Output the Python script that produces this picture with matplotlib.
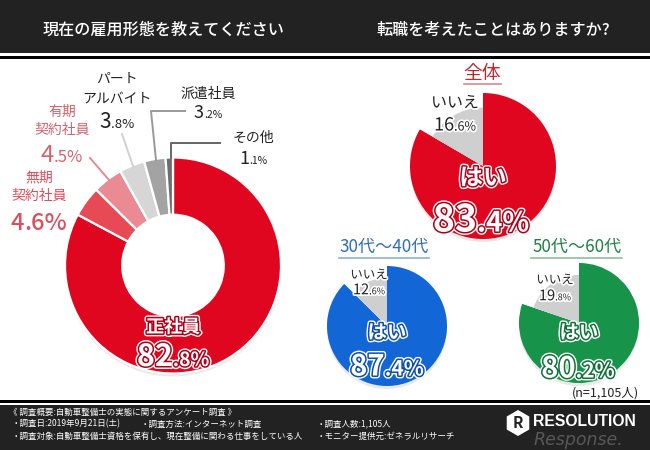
"""雇用形態と転職意向の円グラフ"""
import matplotlib
matplotlib.use("Agg")
import matplotlib.pyplot as plt
import matplotlib.patheffects as pe
from matplotlib.patches import Circle, Rectangle, RegularPolygon

plt.rcParams["font.family"] = ["Noto Sans CJK JP", "DejaVu Sans"]

W, H = 650, 450

# データ
emp_labels = ["正社員", "無期契約社員", "有期契約社員", "パートアルバイト", "派遣社員", "その他"]
emp_values = [82.8, 4.6, 4.5, 3.8, 3.2, 1.1]
emp_colors = ["#e1061f", "#e84a55", "#ea8a93", "#d6d6d6", "#a3a3a3", "#6e6e6e"]

group_names = ["全体", "30代〜40代", "50代〜60代"]
yes_values = [83.4, 87.4, 80.2]
no_values = [16.6, 12.6, 19.8]
group_colors = ["#e1061f", "#1266d6", "#17934a"]

footer_lines = [
    "《 調査概要:自動車整備士の実態に関するアンケート調査 》",
    "・調査日:2019年9月21日(土)",
    "・調査方法:インターネット調査",
    "・調査人数:1,105人",
    "・調査対象:自動車整備士資格を保有し、現在整備に関わる仕事をしている人",
    "・モニター提供元:ゼネラルリサーチ",
]

fig = plt.figure(figsize=(W / 100, H / 100), dpi=100, facecolor="white")


def px_axes(x0, y0, w, h, z):
    ax = fig.add_axes([x0 / W, 1 - (y0 + h) / H, w / W, h / H], zorder=z)
    ax.axis("off")
    return ax


bg = px_axes(0, 0, W, H, 0)
bg.set_xlim(0, W)
bg.set_ylim(H, 0)
top = px_axes(0, 0, W, H, 5)
top.set_xlim(0, W)
top.set_ylim(H, 0)
top.patch.set_alpha(0)

# ヘッダーとフッターの帯
bg.add_patch(Rectangle((0, 0), W, 52.5, color="#222222", lw=0))
bg.add_patch(Rectangle((0, 55.5), W, 3, color="#000000", lw=0))
bg.add_patch(Rectangle((0, 400), W, 2.5, color="#000000", lw=0))
bg.add_patch(Rectangle((0, 404.5), W, 46, color="#222222", lw=0))
top.text(164, 30, "現在の雇用形態を教えてください", color="white", fontsize=11.6,
         ha="center", va="center", weight="medium")
top.text(493, 30, "転職を考えたことはありますか?", color="white", fontsize=11.6,
         ha="center", va="center", weight="medium")


def pct_text(x, y, value, big, small, color="#222222", effects=None, weight="normal"):
    # 整数部を大きく、小数部と%を小さく並べて中央揃えにする
    head, tail = f"{value:.1f}%".split(".")
    tail = "." + tail
    r = fig.canvas.get_renderer()
    base = y + big * 100 / 72 * 0.36
    t1 = top.text(0, base, head, fontsize=big, color=color, ha="left", va="baseline", weight=weight)
    t2 = top.text(0, base, tail, fontsize=small, color=color, ha="left", va="baseline", weight=weight)
    w1 = t1.get_window_extent(r).width
    w2 = t2.get_window_extent(r).width
    left = x - (w1 + w2) / 2
    t1.set_x(left)
    t2.set_x(left + w1)
    if effects:
        t1.set_path_effects(effects)
        t2.set_path_effects(effects)


def badge(color):
    return [pe.Stroke(linewidth=4.2, foreground="white"),
            pe.Stroke(linewidth=2.2, foreground=color), pe.Normal()]


def pie_axes(cx, cy, r):
    bg.add_patch(Circle((cx, cy + 3), r, color="#e9e9e9", lw=0))
    ax = px_axes(cx - r, cy - r, 2 * r, 2 * r, 2)
    return ax


# 左のドーナツ
ax = pie_axes(173, 265.5, 108)
ax.pie(emp_values, colors=emp_colors, startangle=90, counterclock=False,
       wedgeprops={"width": 0.53, "edgecolor": "white", "linewidth": 1.6})
ax.add_patch(Circle((0, 0), 0.48, color="white", lw=0, zorder=0))
ax.set_xlim(-1, 1)
ax.set_ylim(-1, 1)

# 引き出し線
top.plot([122, 133], [134, 166], color="#d0d0d0", lw=1.4)
top.plot([90, 109], [158, 180], color="#e58a94", lw=1.4)
top.plot([185, 151, 156], [111, 111, 160], color="#999999", lw=1.4)
top.plot([220, 171, 171], [143, 143, 158], color="#666666", lw=1.4)

soft_red = "#dc4f5d"
top.text(39, 177, "無期", color=soft_red, fontsize=10, ha="center", va="center")
top.text(39, 196, "契約社員", color=soft_red, fontsize=10, ha="center", va="center")
pct_text(39, 222, emp_values[1], 17, 17, soft_red, weight="medium")
soft_red2 = "#d8606b"
top.text(62, 112, "有期", color=soft_red2, fontsize=10, ha="center", va="center")
top.text(62, 130, "契約社員", color=soft_red2, fontsize=10, ha="center", va="center")
pct_text(62, 153, emp_values[2], 17, 12, soft_red2)
top.text(117, 79, "パート", color="#222222", fontsize=10, ha="center", va="center")
top.text(117, 99, "アルバイト", color="#222222", fontsize=10, ha="center", va="center")
pct_text(117, 121, emp_values[3], 15, 9.5)
top.text(208, 94, "派遣社員", color="#222222", fontsize=10, ha="center", va="center")
pct_text(208, 112, emp_values[4], 13, 7.5)
top.text(253, 138, "その他", color="#222222", fontsize=10, ha="center", va="center")
pct_text(253, 157, emp_values[5], 13, 7.5)

top.text(173, 327, emp_labels[0], color="white", fontsize=13, ha="center", va="center",
         weight="bold", path_effects=badge("#b00018"))
pct_text(173, 355, emp_values[0], 22, 14, "white", badge("#b00018"), "bold")

# 右の円グラフ
layouts = [(483, 166, 73), (387, 326, 60), (579, 323, 60)]
for (cx, cy, r), yes, no, col in zip(layouts, yes_values, no_values, group_colors):
    ax = pie_axes(cx, cy, r)
    ax.pie([yes, no], colors=[col, "white"], startangle=90, counterclock=False,
           wedgeprops={"edgecolor": "none"})
    ax.pie([yes, no], colors=["none", "#cfcfcf"], startangle=90, counterclock=False, radius=0.8,
           wedgeprops={"edgecolor": "none"})
    ax.set_xlim(-1, 1)
    ax.set_ylim(-1, 1)

halo = [pe.Stroke(linewidth=2.5, foreground="white"), pe.Normal()]

# 見出し
top.text(482, 74, group_names[0], color="#c1272d", fontsize=13.5, ha="center", va="center")
top.plot([464, 501], [84, 84], color="#d98a8a", lw=1.2)
top.text(384, 247, group_names[1], color="#2f6db5", fontsize=12.3, ha="center", va="center")
top.plot([339, 429], [258, 258], color="#8fb0d8", lw=1.2)
top.text(577, 247, group_names[2], color="#1f7f45", fontsize=12.3, ha="center", va="center")
top.plot([531, 622], [258, 258], color="#8fbfa0", lw=1.2)

# いいえ
top.text(455, 103, "いいえ", color="#222222", fontsize=11.5, ha="center", va="center", path_effects=halo)
pct_text(455, 124, no_values[0], 13, 9, "#222222", halo)
top.text(369, 275, "いいえ", color="#222222", fontsize=9, ha="center", va="center", path_effects=halo)
pct_text(369, 289, no_values[1], 10.5, 6.5, "#222222", halo)
top.text(555, 280, "いいえ", color="#222222", fontsize=9, ha="center", va="center", path_effects=halo)
pct_text(555, 295, no_values[2], 10.5, 6.5, "#222222", halo)

# はい
top.text(483, 178, "はい", color="white", fontsize=17, ha="center", va="center",
         weight="bold", path_effects=badge("#b00018"))
pct_text(481, 218, yes_values[0], 27, 20, "white", badge("#b00018"), "bold")
top.text(387, 333, "はい", color="white", fontsize=14, ha="center", va="center",
         weight="bold", path_effects=badge("#0d4fa8"))
pct_text(387, 365, yes_values[1], 21, 15, "white", badge("#0d4fa8"), "bold")
top.text(579, 333, "はい", color="white", fontsize=14, ha="center", va="center",
         weight="bold", path_effects=badge("#0f7038"))
pct_text(578, 367, yes_values[2], 21, 15, "white", badge("#0f7038"), "bold")

top.text(639, 393, "(n=1,105人)", color="#222222", fontsize=9, ha="right", va="center")

# フッター
foot_pos = [(9, 412), (12, 424), (141, 424), (317, 424), (12, 436), (317, 436)]
for (x, y), line in zip(foot_pos, footer_lines):
    top.text(x, y, line, color="white", fontsize=6.1, ha="left", va="center")

# ロゴと透かし
top.text(534, 440, "Response.", color="#666666", fontsize=12.5, style="italic", ha="left", va="center",
         family="DejaVu Sans", alpha=0.8)
top.add_patch(RegularPolygon((518, 423), 6, radius=13, color="white", lw=0))
top.text(518, 423, "R", color="#222222", fontsize=11, weight="bold", ha="center", va="center")
top.text(533, 421, "RESOLUTION", color="white", fontsize=11.3, weight="bold", ha="left", va="center",
         family="Liberation Sans")

fig.savefig("out.png", dpi=100)
